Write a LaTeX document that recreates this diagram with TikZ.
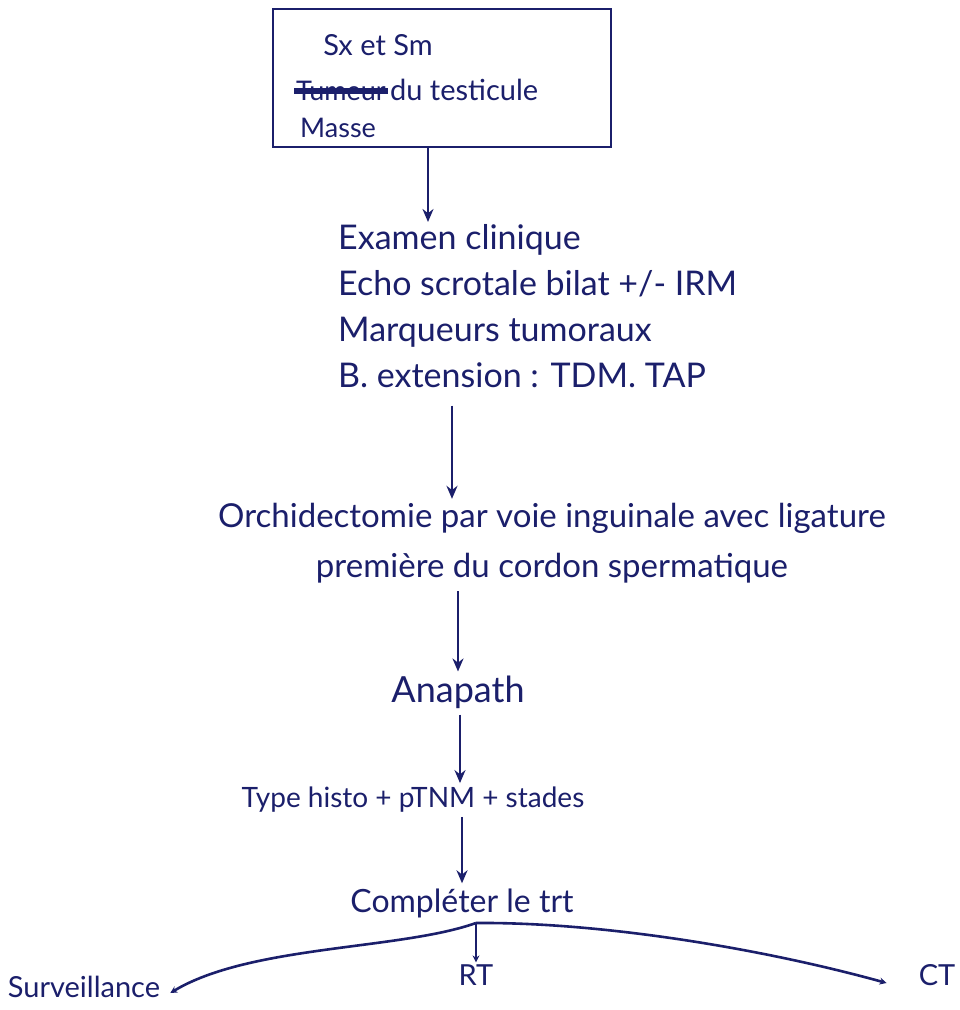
\documentclass[tikz,border=0pt]{standalone}
\usepackage{fontspec}
\setmainfont{Lato}
\usetikzlibrary{arrows.meta}
\definecolor{ink}{HTML}{1B1F6B}
\begin{document}
\begin{tikzpicture}[x=1pt,y=-1pt,
  txt/.style={text=ink,inner sep=2pt},
  conn/.style={draw=ink,line width=2.8pt,-{Stealth[length=13pt,width=11pt]}},
  branch/.style={draw=ink,line width=2.6pt,-{Stealth[length=7pt,width=7pt]}}]
\useasboundingbox (0,0) rectangle (960,1010);
\fill[white] (0,0) rectangle (960,1010);
\node[draw=ink,line width=2.8pt,minimum width=338pt,minimum height=138pt] (box) at (442,78) {};
\node[txt,font=\fontsize{29}{34}\selectfont] (sx) at (378,45) {Sx et Sm};
\node[txt,anchor=base west,font=\fontsize{27}{30}\selectfont] (tum) at (294,100) {Tumeur};
\draw[ink,line width=6pt] ([yshift=-1pt]tum.west) -- ([yshift=-1pt]tum.east);
\node[txt,anchor=base west,font=\fontsize{29}{34}\selectfont] (du) at (tum.base east) {du testicule};
\node[txt,anchor=base west,font=\fontsize{27}{30}\selectfont] (masse) at (298,137) {Masse};
\node[txt,align=left,anchor=north west,font=\fontsize{34}{46}\selectfont] (exam) at (336,222) {Examen clinique\\Echo scrotale bilat +/- IRM\\Marqueurs tumoraux\\B. extension : TDM. TAP};
\node[txt,align=center,font=\fontsize{33}{50}\selectfont] (orch) at (552,543) {Orchidectomie par voie inguinale avec ligature\\premi\`ere du cordon spermatique};
\node[txt,font=\fontsize{36}{40}\selectfont] (ana) at (458,692) {Anapath};
\node[txt,font=\fontsize{28}{32}\selectfont] (type) at (413,800) {Type histo + pTNM + stades};
\node[txt,font=\fontsize{32}{36}\selectfont] (comp) at (462,903) {Compl\'eter le trt};
\node[txt,font=\fontsize{29}{32}\selectfont] (surv) at (84,987) {Surveillance};
\node[txt,font=\fontsize{29}{32}\selectfont] (rt) at (476,975) {RT};
\node[txt,font=\fontsize{29}{32}\selectfont] (ct) at (937,975) {CT};
\coordinate (j) at (476,923);
\draw[conn] ([xshift=-14pt]box.south) -- ([xshift=-14pt]box.south |- exam.north);
\draw[conn] ([yshift=-16pt]exam.south -| 452,0) -- ([yshift=2pt]orch.north -| 452,0);
\draw[conn] ([yshift=-6pt]orch.south -| 458,0) -- ([yshift=2pt]ana.north -| 458,0);
\draw[conn] ([yshift=-4pt]ana.south -| 460,0) -- ([yshift=2pt]type.north -| 460,0);
\draw[conn] ([yshift=-2pt]type.south -| 462,0) -- ([yshift=3pt]comp.north -| 462,0);
\draw[branch] (j) .. controls (400,950) and (250,945) .. ([xshift=8pt,yshift=-6pt]surv.east);
\draw[branch] (j) -- (rt.north);
\draw[branch] (j) .. controls (600,922) and (760,948) .. ([xshift=-30pt,yshift=-8pt]ct.west);
\end{tikzpicture}
\end{document}
